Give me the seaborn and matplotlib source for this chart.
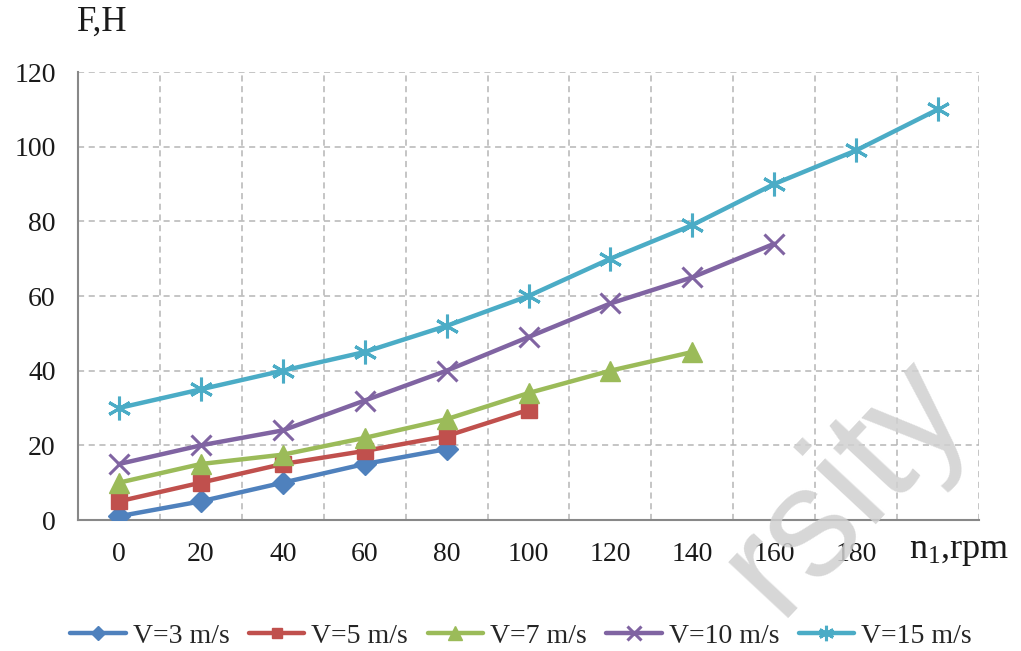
import matplotlib
matplotlib.use("Agg")
import matplotlib.pyplot as plt
import seaborn as sns
import pandas as pd
import numpy as np

# Rotor speed categories (rpm)
speeds = [0, 20, 40, 60, 80, 100, 120, 140, 160, 180, 200]
x_tick_labels = ["0", "20", "40", "60", "80", "100", "120", "140", "160", "180"]

# Force F (N) for each wind velocity
f_v3 = [1, 5, 10, 15, 19]
f_v5 = [5, 10, 15, 18.5, 22.5, 29.5]
f_v7 = [10, 15, 17.5, 22, 27, 34, 40, 45]
f_v10 = [15, 20, 24, 32, 40, 49, 58, 65, 74]
f_v15 = [30, 35, 40, 45, 52, 60, 70, 79, 90, 99, 110]

series_labels = ["V=3 m/s", "V=5 m/s", "V=7 m/s", "V=10 m/s", "V=15 m/s"]
series_values = [f_v3, f_v5, f_v7, f_v10, f_v15]

colors = ["#4F81BD", "#C0504D", "#9BBB59", "#8064A2", "#4BACC6"]
markers = ["D", "s", "^", "x", (6, 2, 0)]
msizes = [11, 12, 15, 15, 17]

rows = []
for lab, vals in zip(series_labels, series_values):
    for i, v in enumerate(vals):
        rows.append({"pos": i, "speed": speeds[i], "F": v, "series": lab})
df = pd.DataFrame(rows)

sns.set_theme(style="white")
plt.rcParams["font.family"] = ["Liberation Serif", "DejaVu Serif"]
plt.rcParams["mathtext.fontset"] = "stix"

fig = plt.figure(figsize=(10.21, 6.51), dpi=100)
ax = fig.add_axes([78 / 1021, 1 - 520 / 651, (979 - 78) / 1021, (520 - 72) / 651])

for lab, col, mk, ms in zip(series_labels, colors, markers, msizes):
    sub = df[df["series"] == lab]
    stroke_marker = mk == "x" or isinstance(mk, tuple)
    sns.lineplot(data=sub, x="pos", y="F", ax=ax, color=col, linewidth=3.2,
                 marker=mk, markersize=ms, markeredgecolor=col, markerfacecolor=col,
                 markeredgewidth=2.2 if stroke_marker else 1,
                 label=lab, sort=False, zorder=3)

ax.set_xlim(-0.5, len(speeds) - 0.5)
ax.set_ylim(0, 120)
ax.set_yticks(np.arange(0, 121, 20))
ax.set_xticks(range(len(speeds)))
ax.set_xticklabels(x_tick_labels + [""])
ax.tick_params(axis="both", length=0, labelsize=20, colors="#1a1a1a")
ax.tick_params(axis="x", pad=16)
ax.tick_params(axis="y", pad=16)

# dashed grid: horizontal at y ticks, vertical between categories
for y in np.arange(20, 121, 20):
    ax.axhline(y, color="#b5b5b5", linestyle=(0, (4, 3)), linewidth=1.1, zorder=1)
for b in np.arange(0.5, len(speeds), 1.0):
    ax.axvline(b, color="#b5b5b5", linestyle=(0, (4, 3)), linewidth=1.1, zorder=1)

for side in ["top", "right"]:
    ax.spines[side].set_visible(False)
for side in ["left", "bottom"]:
    ax.spines[side].set_color("#888888")
    ax.spines[side].set_linewidth(1.5)

ax.set_xlabel("")
ax.set_ylabel("")

fig.text(77 / 1021, 1 - 22 / 651, "F,H", fontsize=25, ha="left", va="center", color="#1a1a1a")
fig.text(909 / 1021, 1 - 552 / 651, r"$\mathregular{n_1}$,rpm", fontsize=26, ha="left",
         va="center", color="#1a1a1a")

handles, labels = ax.get_legend_handles_labels()
leg = fig.legend(handles, labels, loc="center", bbox_to_anchor=(521 / 1021, 1 - 636 / 651),
                 ncol=5, frameon=False, fontsize=20, handlelength=2.0, columnspacing=0.7,
                 handletextpad=0.25, markerscale=0.65)
if ax.get_legend() is not None:
    ax.get_legend().remove()

# watermark
fig.text(972 / 1021, 1 - 410 / 651, "rsity", fontsize=112, color="#d0d0d0",
         alpha=0.85, rotation=47, ha="right", va="baseline", rotation_mode="anchor",
         family=["Liberation Sans", "DejaVu Sans"], zorder=10)

fig.savefig("out.png", dpi=100)
